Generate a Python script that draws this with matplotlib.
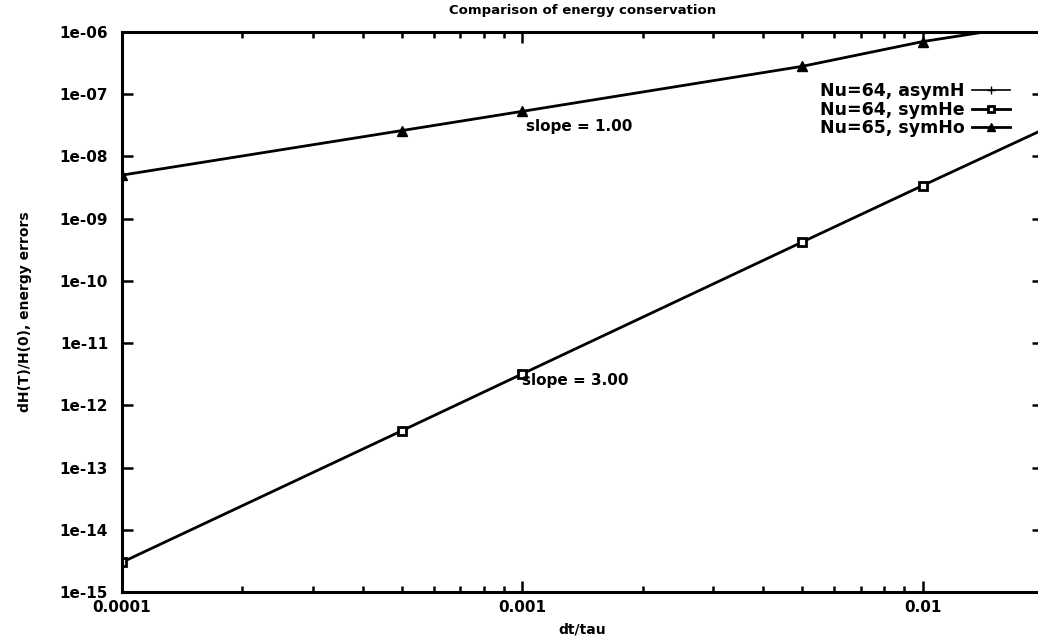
import matplotlib
matplotlib.use("Agg")
import matplotlib.pyplot as plt
from matplotlib.ticker import LogLocator, FixedLocator, FixedFormatter, NullFormatter

plt.rcParams['font.family'] = ['DejaVu Sans']
plt.rcParams['font.weight'] = 'bold'

# energy error vs time step for the three integrators
asymH_dt = []
asymH_err = []

symHe_dt = [1e-4, 5e-4, 1e-3, 5e-3, 1e-2, 2e-2]
symHe_err = [3.0e-15, 3.9e-13, 3.2e-12, 4.2e-10, 3.4e-9, 2.7e-8]

symHo_dt = [1e-4, 5e-4, 1e-3, 5e-3, 1e-2, 2e-2]
symHo_err = [5.0e-9, 2.6e-8, 5.3e-8, 2.8e-7, 7.0e-7, 1.4e-6]

x_ticks = [1e-4, 1e-3, 1e-2]
x_tick_labels = ["0.0001", "0.001", "0.01"]
y_ticks = [10.0 ** e for e in range(-15, -5)]
y_tick_labels = ["1e-%02d" % -e for e in range(-15, -5)]

fig = plt.figure(figsize=(10.38, 6.39), dpi=100)
ax = fig.add_axes([0.1175, 0.0736, 0.8875, 0.8764])

ax.plot(asymH_dt, asymH_err, color="black", lw=1.2, marker="+", ms=7,
        label="Nu=64, asymH")
ax.plot(symHe_dt, symHe_err, color="black", lw=2.0, marker="s", ms=6,
        mfc="white", mec="black", mew=2, label="Nu=64, symHe")
ax.plot(symHo_dt, symHo_err, color="black", lw=2.0, marker="^", ms=7,
        label="Nu=65, symHo")

ax.set_xscale("log")
ax.set_yscale("log")
ax.set_xlim(1e-4, 0.02)
ax.set_ylim(1e-15, 1e-6)

ax.xaxis.set_major_locator(FixedLocator(x_ticks))
ax.xaxis.set_major_formatter(FixedFormatter(x_tick_labels))
ax.xaxis.set_minor_locator(LogLocator(base=10, subs=range(2, 10)))
ax.xaxis.set_minor_formatter(NullFormatter())
ax.yaxis.set_major_locator(FixedLocator(y_ticks))
ax.yaxis.set_major_formatter(FixedFormatter(y_tick_labels))
ax.yaxis.set_minor_locator(FixedLocator([]))

ax.tick_params(which="both", direction="in", top=True, right=True,
               labelsize=11, width=1.8)
ax.tick_params(which="major", length=8)
ax.tick_params(axis="x", which="major", pad=6)
ax.tick_params(axis="y", which="major", pad=10)
ax.tick_params(which="minor", length=4)
for s in ax.spines.values():
    s.set_linewidth(2.2)

ax.set_title("Comparison of energy conservation", fontsize=9.5,
             fontweight="bold", pad=13)
ax.set_xlabel("dt/tau", fontsize=10, fontweight="bold", labelpad=5)
ax.set_ylabel("dH(T)/H(0), energy errors", fontsize=10, fontweight="bold",
              labelpad=20)

ax.text(1.02e-3, 2.97e-8, "slope = 1.00", fontsize=11, fontweight="bold",
        ha="left", va="center")
ax.text(1.0e-3, 2.54e-12, "slope = 3.00", fontsize=11, fontweight="bold",
        ha="left", va="center")

ax.legend(loc="upper right", bbox_to_anchor=(0.964, 0.91), frameon=False,
          fontsize=12.5, handlelength=2.2, handletextpad=0.4,
          labelspacing=0.02, borderpad=0, borderaxespad=0,
          markerfirst=False, numpoints=1, markerscale=0.8)

fig.savefig("out.png", dpi=100)
